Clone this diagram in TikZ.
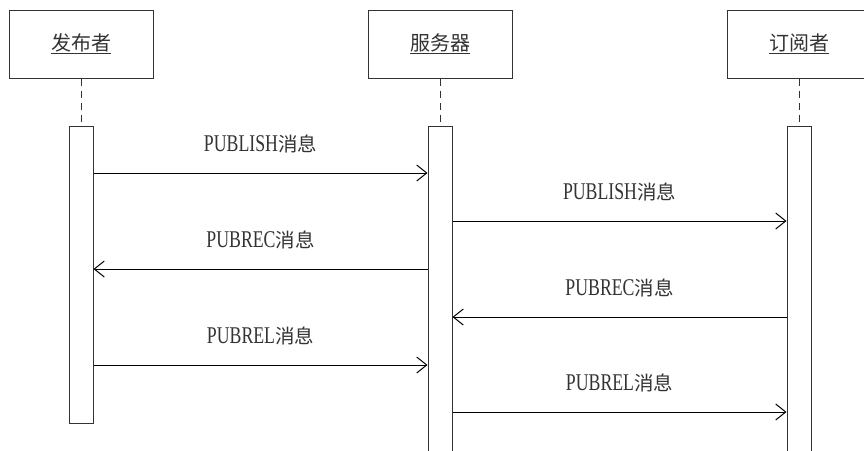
\documentclass[tikz,border=0pt]{standalone}
\usepackage{fontspec}
\usetikzlibrary{arrows.meta}
\newfontfamily\cjk{Noto Sans CJK SC}
\newfontfamily\latn[FakeStretch=0.74]{Liberation Serif}
\newcommand{\msglabel}[2]{{\latn\fontsize{24}{26}\selectfont #1}{\cjk\fontsize{19.5}{22}\selectfont #2}}
\begin{document}
\begin{tikzpicture}[x=1pt,y=-1pt,
  lc/.style={draw=black!80,line width=1pt},
  actor/.style={lc,rectangle,minimum width=144pt,minimum height=68pt,inner sep=0pt,
    font=\cjk\fontsize{20}{22}\selectfont,text=black!80},
  bar/.style={lc,fill=white,rectangle,minimum width=24pt,inner sep=0pt,anchor=north},
  life/.style={lc,dash pattern=on 7pt off 5pt},
  msg/.style={draw=black,line width=1pt,-{Straight Barb[length=10pt,width=16pt,line width=1pt]}},
  lbl/.style={text=black!80,inner sep=0pt}]
\clip (0,0) rectangle (864,450);
\fill[white] (0,0) rectangle (864,450);

\node[actor] (pub) at (81,44) {\underline{发布者}};
\node[actor] (srv) at (440,44) {\underline{服务器}};
\node[actor] (sub) at (799,44) {\underline{订阅者}};

\node[bar,minimum height=297pt] (bpub) at (81,126) {};
\node[bar,minimum height=340pt] (bsrv) at (440,126) {};
\node[bar,minimum height=340pt] (bsub) at (799,126) {};

\draw[life] (pub.south) -- (bpub.north);
\draw[life] (srv.south) -- (bsrv.north);
\draw[life] (sub.south) -- (bsub.north);

\coordinate (m1) at (0,173);
\coordinate (m2) at (0,221);
\coordinate (m3) at (0,269);
\coordinate (m4) at (0,317);
\coordinate (m5) at (0,365);
\coordinate (m6) at (0,412);

\draw[msg] (bpub.east |- m1) -- node[lbl,above=19pt] (l1) {\msglabel{PUBLISH}{消息}} (bsrv.west |- m1);
\draw[msg] (bsrv.east |- m2) -- node[lbl,above=19pt] (l2) {\msglabel{PUBLISH}{消息}} (bsub.west |- m2);
\draw[msg] (bsrv.west |- m3) -- node[lbl,above=19pt] (l3) {\msglabel{PUBREC}{消息}} (bpub.east |- m3);
\draw[msg] (bsub.west |- m4) -- node[lbl,above=19pt] (l4) {\msglabel{PUBREC}{消息}} (bsrv.east |- m4);
\draw[msg] (bpub.east |- m5) -- node[lbl,above=19pt] (l5) {\msglabel{PUBREL}{消息}} (bsrv.west |- m5);
\draw[msg] (bsrv.east |- m6) -- node[lbl,above=19pt] (l6) {\msglabel{PUBREL}{消息}} (bsub.west |- m6);
\end{tikzpicture}
\end{document}
